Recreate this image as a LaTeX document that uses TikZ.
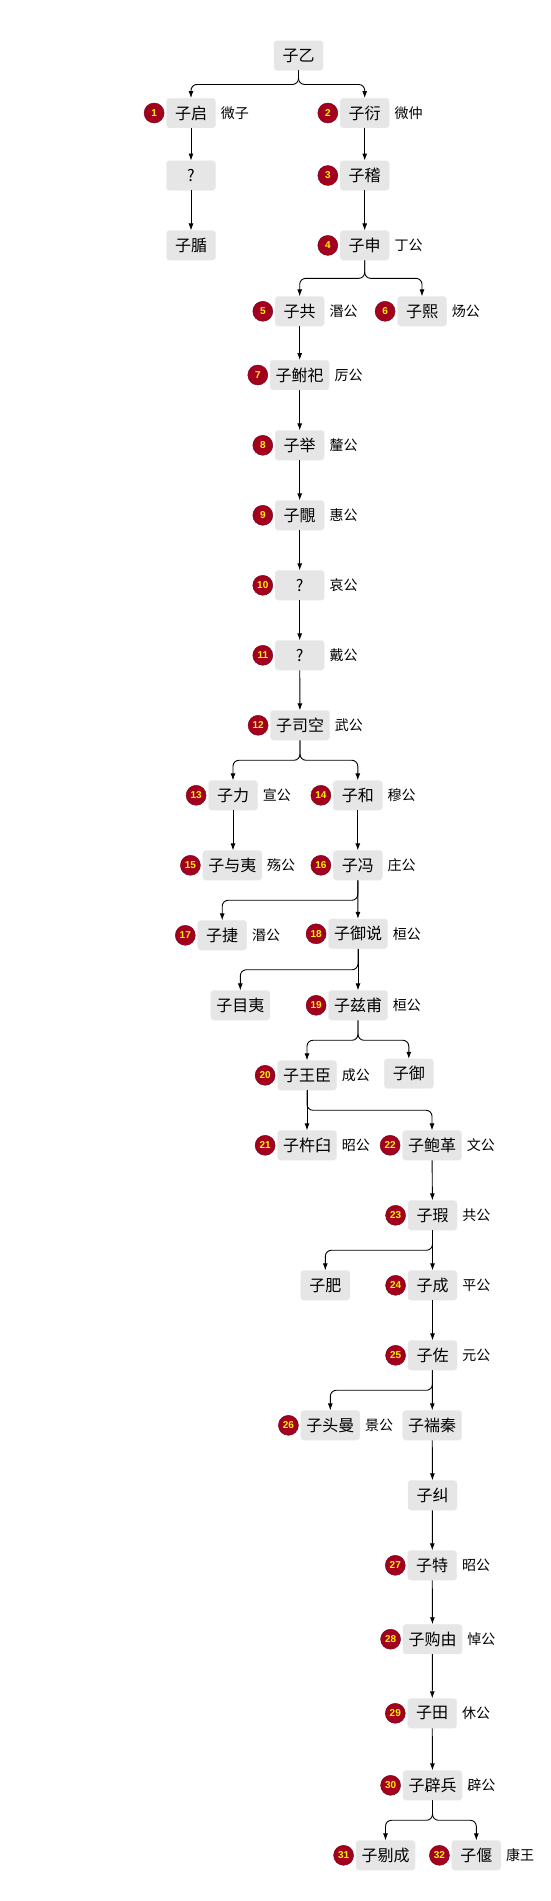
\documentclass[tikz,border=0pt]{standalone}
\usepackage{fontspec}
\setmainfont{Noto Sans CJK SC}
\newfontfamily\numfont{Liberation Sans}
\usepackage{tikz}
\usetikzlibrary{arrows.meta,positioning}
\definecolor{boxgray}{HTML}{E6E6E6}
\definecolor{badgered}{HTML}{A3001E}
\definecolor{badgeyellow}{HTML}{FFF200}

\begin{document}
\begin{tikzpicture}[x=1pt,y=-1pt,
    box/.style={fill=boxgray,draw=boxgray!85!white,rounded corners=3pt,minimum width=49pt,minimum height=29.5pt,inner xsep=5.5pt,font=\fontsize{16}{18}\selectfont},
    badge/.style={circle,fill=badgered,draw=badgered!70!black,minimum size=20pt,inner sep=0pt,text=badgeyellow,font=\numfont\bfseries\fontsize{10}{11}\selectfont},
    title/.style={inner sep=0pt,font=\fontsize{14}{16}\selectfont},
    edge/.style={-{Latex[length=7pt,width=5pt]},line width=0.9pt,rounded corners=6pt}]
  \fill[white] (0,0) rectangle (551,1901);
  % generations
  \node[box] (zi) at (298.5,55.5) {子乙};
  \node[box] (qi) at (191,113) {子启};
  \node[badge,left=2pt of qi] (b1) {1};
  \node[title,right=5pt of qi] (t1) {微子};
  \node[box] (yan) at (364.7,113) {子衍};
  \node[badge,left=2pt of yan] (b2) {2};
  \node[title,right=5pt of yan] (t2) {微仲};
  \node[box] (qa) at (191,175.5) {?};
  \node[box] (ji) at (364.7,175.5) {子稽};
  \node[badge,left=2pt of ji] (b3) {3};
  \node[box] (dun) at (191,245.4) {子腯};
  \node[box] (shen) at (364.7,245.4) {子申};
  \node[badge,left=2pt of shen] (b4) {4};
  \node[title,right=5pt of shen] (t4) {丁公};
  \node[box] (gong) at (299.7,311.3) {子共};
  \node[badge,left=2pt of gong] (b5) {5};
  \node[title,right=5pt of gong] (t5) {湣公};
  \node[box] (xi) at (422,311.3) {子熙};
  \node[badge,left=2pt of xi] (b6) {6};
  \node[title,right=5pt of xi] (t6) {炀公};
  \node[box] (fusi) at (299.7,375) {子鲋祀};
  \node[badge,left=2pt of fusi] (b7) {7};
  \node[title,right=5pt of fusi] (t7) {厉公};
  \node[box] (ju) at (299.7,445.3) {子举};
  \node[badge,left=2pt of ju] (b8) {8};
  \node[title,right=5pt of ju] (t8) {釐公};
  \node[box] (jian) at (299.7,515.3) {子覸};
  \node[badge,left=2pt of jian] (b9) {9};
  \node[title,right=5pt of jian] (t9) {惠公};
  \node[box] (qb) at (299.7,585.3) {?};
  \node[badge,left=2pt of qb] (b10) {10};
  \node[title,right=5pt of qb] (t10) {哀公};
  \node[box] (qc) at (299.7,655.3) {?};
  \node[badge,left=2pt of qc] (b11) {11};
  \node[title,right=5pt of qc] (t11) {戴公};
  \node[box] (sikong) at (300,725.3) {子司空};
  \node[badge,left=2pt of sikong] (b12) {12};
  \node[title,right=5pt of sikong] (t12) {武公};
  \node[box] (li) at (233,795.3) {子力};
  \node[badge,left=2pt of li] (b13) {13};
  \node[title,right=5pt of li] (t13) {宣公};
  \node[box] (he) at (357.8,795.3) {子和};
  \node[badge,left=2pt of he] (b14) {14};
  \node[title,right=5pt of he] (t14) {穆公};
  \node[box] (yuyi) at (232.3,865.3) {子与夷};
  \node[badge,left=2pt of yuyi] (b15) {15};
  \node[title,right=5pt of yuyi] (t15) {殇公};
  \node[box] (feng) at (357.8,865.3) {子冯};
  \node[badge,left=2pt of feng] (b16) {16};
  \node[title,right=5pt of feng] (t16) {庄公};
  \node[box] (jie) at (222.2,935.3) {子捷};
  \node[badge,left=2pt of jie] (b17) {17};
  \node[title,right=5pt of jie] (t17) {湣公};
  \node[box] (yuyue) at (358,933.8) {子御说};
  \node[badge,left=2pt of yuyue] (b18) {18};
  \node[title,right=5pt of yuyue] (t18) {桓公};
  \node[box] (muyi) at (240.3,1005.3) {子目夷};
  \node[box] (zifu) at (358,1005.3) {子兹甫};
  \node[badge,left=2pt of zifu] (b19) {19};
  \node[title,right=5pt of zifu] (t19) {桓公};
  \node[box] (wangchen) at (307,1075.3) {子王臣};
  \node[badge,left=2pt of wangchen] (b20) {20};
  \node[title,right=5pt of wangchen] (t20) {成公};
  \node[box] (yu) at (408.8,1073.7) {子御};
  \node[box] (chujiu) at (307,1145.3) {子杵臼};
  \node[badge,left=2pt of chujiu] (b21) {21};
  \node[title,right=5pt of chujiu] (t21) {昭公};
  \node[box] (baoge) at (432,1145.3) {子鲍革};
  \node[badge,left=2pt of baoge] (b22) {22};
  \node[title,right=5pt of baoge] (t22) {文公};
  \node[box] (xia) at (432.5,1215.3) {子瑕};
  \node[badge,left=2pt of xia] (b23) {23};
  \node[title,right=5pt of xia] (t23) {共公};
  \node[box] (fei) at (325.3,1285.3) {子肥};
  \node[box] (cheng) at (432.5,1285.3) {子成};
  \node[badge,left=2pt of cheng] (b24) {24};
  \node[title,right=5pt of cheng] (t24) {平公};
  \node[box] (zuo) at (432.5,1355.3) {子佐};
  \node[badge,left=2pt of zuo] (b25) {25};
  \node[title,right=5pt of zuo] (t25) {元公};
  \node[box] (touman) at (330.3,1425.3) {子头曼};
  \node[badge,left=2pt of touman] (b26) {26};
  \node[title,right=5pt of touman] (t26) {景公};
  \node[box] (duanqin) at (432.2,1425.3) {子褍秦};
  \node[box] (jiu) at (432.5,1495.3) {子纠};
  \node[box] (te) at (432.2,1565.3) {子特};
  \node[badge,left=2pt of te] (b27) {27};
  \node[title,right=5pt of te] (t27) {昭公};
  \node[box] (gouyou) at (432.5,1639.2) {子购由};
  \node[badge,left=2pt of gouyou] (b28) {28};
  \node[title,right=5pt of gouyou] (t28) {悼公};
  \node[box] (tian) at (432.2,1713.3) {子田};
  \node[badge,left=2pt of tian] (b29) {29};
  \node[title,right=5pt of tian] (t29) {休公};
  \node[box] (bibing) at (432.5,1785.3) {子辟兵};
  \node[badge,left=2pt of bibing] (b30) {30};
  \node[title,right=5pt of bibing] (t30) {辟公};
  \node[box] (ticheng) at (385.5,1855.3) {子剔成};
  \node[badge,left=2pt of ticheng] (b31) {31};
  \node[box] (yan2) at (476.3,1855.3) {子偃};
  \node[badge,left=2pt of yan2] (b32) {32};
  \node[title,right=5pt of yan2] (t32) {康王};
  % descent
  \draw[edge] (zi.south) -- ++(0,14) -| (qi.north);
  \draw[edge] (zi.south) -- ++(0,14) -| (yan.north);
  \draw[edge] (qi) -- (qa);
  \draw[edge] (qa) -- (dun);
  \draw[edge] (yan) -- (ji);
  \draw[edge] (ji) -- (shen);
  \draw[edge] (shen.south) -- ++(0,18) -| (gong.north);
  \draw[edge] (shen.south) -- ++(0,18) -| (xi.north);
  \draw[edge] (gong) -- (fusi);
  \draw[edge] (fusi) -- (ju);
  \draw[edge] (ju) -- (jian);
  \draw[edge] (jian) -- (qb);
  \draw[edge] (qb) -- (qc);
  \draw[edge] (qc) -- (sikong);
  \draw[edge] (sikong.south) -- ++(0,20) -| (li.north);
  \draw[edge] (sikong.south) -- ++(0,20) -| (he.north);
  \draw[edge] (li.south) -- (li.south |- yuyi.north);
  \draw[edge] (he) -- (feng);
  \draw[edge] (feng.south) -- ++(0,20) -| (jie.north);
  \draw[edge] (feng) -- (yuyue);
  \draw[edge] (yuyue.south) -- ++(0,21) -| (muyi.north);
  \draw[edge] (yuyue) -- (zifu);
  \draw[edge] (zifu.south) -- ++(0,20) -| (wangchen.north);
  \draw[edge] (zifu.south) -- ++(0,20) -| (yu.north);
  \draw[edge] (wangchen) -- (chujiu);
  \draw[edge] (wangchen.south) -- ++(0,20) -| (baoge.north);
  \draw[edge] (baoge) -- (xia);
  \draw[edge] (xia.south) -- ++(0,20) -| (fei.north);
  \draw[edge] (xia) -- (cheng);
  \draw[edge] (cheng) -- (zuo);
  \draw[edge] (zuo.south) -- ++(0,20) -| (touman.north);
  \draw[edge] (zuo) -- (duanqin);
  \draw[edge] (duanqin) -- (jiu);
  \draw[edge] (jiu) -- (te);
  \draw[edge] (te) -- (gouyou);
  \draw[edge] (gouyou) -- (tian);
  \draw[edge] (tian) -- (bibing);
  \draw[edge] (bibing.south) -- ++(0,20) -| (ticheng.north);
  \draw[edge] (bibing.south) -- ++(0,20) -| (yan2.north);
\end{tikzpicture}
\end{document}
